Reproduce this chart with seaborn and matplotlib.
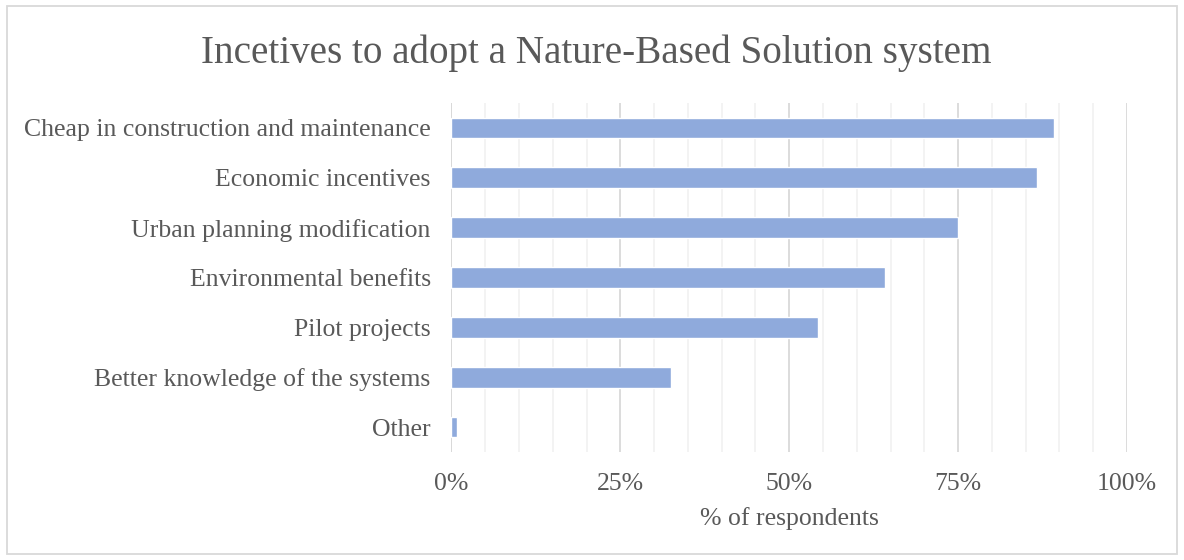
import matplotlib
matplotlib.use("Agg")
import matplotlib.pyplot as plt
from matplotlib.ticker import MultipleLocator, FuncFormatter
from matplotlib.patches import Rectangle
import seaborn as sns
import pandas as pd

categories = [
    "Cheap in construction and maintenance",
    "Economic incentives",
    "Urban planning modification",
    "Environmental benefits",
    "Pilot projects",
    "Better knowledge of the systems",
    "Other",
]
shares = [89.2, 86.7, 75.0, 64.2, 54.2, 32.5, 0.8]
x_ticks = [0, 25, 50, 75, 100]

title = "Incetives to adopt a Nature-Based Solution system"
x_label = "% of respondents"

sns.set_theme(style="white")
plt.rcParams["font.family"] = ["Liberation Serif", "DejaVu Serif"]

text_color = "#595959"
bar_color = "#8FAADC"

df = pd.DataFrame({"category": categories, "share": shares})

fig = plt.figure(figsize=(11.84, 5.6), dpi=100)
ax = fig.add_axes([0.3813, 0.1929, 0.5706, 0.6232])

sns.barplot(data=df, x="share", y="category", orient="h", color=bar_color,
            width=0.415, saturation=1, ax=ax, zorder=3)

ax.set_xlim(0, 100)
ax.set_xticks(x_ticks)
ax.xaxis.set_minor_locator(MultipleLocator(5))
ax.xaxis.set_major_formatter(FuncFormatter(lambda v, p: f"{v:.0f}%"))
ax.grid(axis="x", which="minor", color="#F2F2F2", linewidth=1.3, zorder=0)
ax.grid(axis="x", which="major", color="#D9D9D9", linewidth=1.3, zorder=1)
ax.grid(axis="y", visible=False)
for s in ax.spines.values():
    s.set_visible(False)
ax.axvline(0, color="#D9D9D9", linewidth=1.3, zorder=2)

ax.tick_params(axis="both", which="both", length=0, colors=text_color, labelsize=18.5)
ax.tick_params(axis="y", pad=15)
ax.tick_params(axis="x", pad=15)
ax.set_ylabel("")
ax.set_xlabel(x_label, fontsize=18.5, color=text_color, labelpad=9)

fig.text(0.504, 0.905, title, ha="center", va="center", fontsize=28.2, color=text_color)

fig.patches.append(Rectangle((0.006, 0.011), 0.988, 0.978, transform=fig.transFigure,
                             fill=False, edgecolor="#D9D9D9", linewidth=1.3))

fig.savefig("out.png", dpi=100, facecolor="white")
